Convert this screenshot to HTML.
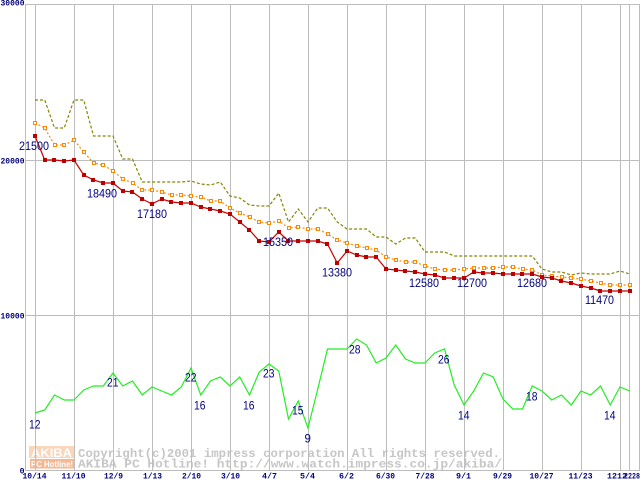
<!DOCTYPE html>
<html>
<head>
<meta charset="utf-8">
<style>
html,body{margin:0;padding:0;background:#fff;}
svg{display:block;}
</style>
</head>
<body>
<svg width="640" height="480" viewBox="0 0 640 480" xmlns="http://www.w3.org/2000/svg">
<rect x="0" y="0" width="640" height="480" fill="#fff"/>

<!-- watermark logo -->
<g opacity="0.7">
  <rect x="29" y="446" width="45" height="12" fill="#f9c49c"/>
  <text x="31" y="457" font-family="Liberation Sans, sans-serif" font-weight="bold" font-size="12" fill="#fff" textLength="41" lengthAdjust="spacingAndGlyphs">AKIBA</text>
  <rect x="30" y="459" width="44" height="9.5" fill="#f49a64"/>
  <text x="31" y="467" font-family="Liberation Sans, sans-serif" font-weight="bold" font-size="8" fill="#fff" textLength="42" lengthAdjust="spacingAndGlyphs">PC Hotline!</text>
</g>
<g font-family="Liberation Mono, monospace" font-weight="bold" font-size="12" fill="#c6c6c6">
  <text x="78" y="457" textLength="422" lengthAdjust="spacingAndGlyphs">Copyright(c)2001 impress corporation All rights reserved.</text>
  <text x="78" y="467.5" textLength="424" lengthAdjust="spacingAndGlyphs">AKIBA PC Hotline!  http://www.watch.impress.co.jp/akiba/</text>
</g>

<!-- grid -->
<g stroke="#bdbdbd" stroke-width="1" fill="none" shape-rendering="crispEdges">
  <line x1="25" y1="4.5" x2="640" y2="4.5"/>
  <line x1="25" y1="160.5" x2="640" y2="160.5"/>
  <line x1="25" y1="315.5" x2="640" y2="315.5"/>
  <line x1="25" y1="470.5" x2="640" y2="470.5"/>
  <line x1="25.5" y1="4" x2="25.5" y2="471"/>
  <line x1="35.5" y1="4" x2="35.5" y2="471"/>
  <line x1="74.5" y1="4" x2="74.5" y2="471"/>
  <line x1="113.5" y1="4" x2="113.5" y2="471"/>
  <line x1="152.5" y1="4" x2="152.5" y2="471"/>
  <line x1="191.5" y1="4" x2="191.5" y2="471"/>
  <line x1="230.5" y1="4" x2="230.5" y2="471"/>
  <line x1="269.5" y1="4" x2="269.5" y2="471"/>
  <line x1="308.5" y1="4" x2="308.5" y2="471"/>
  <line x1="347.5" y1="4" x2="347.5" y2="471"/>
  <line x1="386.5" y1="4" x2="386.5" y2="471"/>
  <line x1="425.5" y1="4" x2="425.5" y2="471"/>
  <line x1="464.5" y1="4" x2="464.5" y2="471"/>
  <line x1="503.5" y1="4" x2="503.5" y2="471"/>
  <line x1="542.5" y1="4" x2="542.5" y2="471"/>
  <line x1="581.5" y1="4" x2="581.5" y2="471"/>
  <line x1="620.5" y1="4" x2="620.5" y2="471"/>
  <line x1="629.5" y1="4" x2="629.5" y2="471"/>
  <line x1="639.5" y1="4" x2="639.5" y2="471"/>
</g>

<!-- y axis labels -->
<g font-family="Liberation Mono, monospace" font-weight="bold" font-size="8.2" fill="#000080" text-anchor="end">
  <text x="24.5" y="5.5" textLength="24" lengthAdjust="spacingAndGlyphs">30000</text>
  <text x="24.5" y="163.5" textLength="24" lengthAdjust="spacingAndGlyphs">20000</text>
  <text x="24.5" y="318.5" textLength="24" lengthAdjust="spacingAndGlyphs">10000</text>
  <text x="24.5" y="473.5">0</text>
</g>

<!-- x axis labels -->
<g font-family="Liberation Mono, monospace" font-weight="bold" font-size="8.2" fill="#000080" text-anchor="middle">
  <text x="34.5" y="478.5" textLength="24" lengthAdjust="spacingAndGlyphs">10/14</text>
  <text x="73.5" y="478.5" textLength="24" lengthAdjust="spacingAndGlyphs">11/10</text>
  <text x="113.5" y="478.5" textLength="19" lengthAdjust="spacingAndGlyphs">12/9</text>
  <text x="152.5" y="478.5" textLength="19" lengthAdjust="spacingAndGlyphs">1/13</text>
  <text x="191.5" y="478.5" textLength="19" lengthAdjust="spacingAndGlyphs">2/10</text>
  <text x="230.5" y="478.5" textLength="19" lengthAdjust="spacingAndGlyphs">3/10</text>
  <text x="269.5" y="478.5" textLength="15" lengthAdjust="spacingAndGlyphs">4/7</text>
  <text x="307.5" y="478.5" textLength="15" lengthAdjust="spacingAndGlyphs">5/4</text>
  <text x="346.5" y="478.5" textLength="15" lengthAdjust="spacingAndGlyphs">6/2</text>
  <text x="385.5" y="478.5" textLength="19" lengthAdjust="spacingAndGlyphs">6/30</text>
  <text x="425" y="478.5" textLength="19" lengthAdjust="spacingAndGlyphs">7/28</text>
  <text x="463.5" y="478.5" textLength="15" lengthAdjust="spacingAndGlyphs">9/1</text>
  <text x="502.5" y="478.5" textLength="19" lengthAdjust="spacingAndGlyphs">9/29</text>
  <text x="541.5" y="478.5" textLength="24" lengthAdjust="spacingAndGlyphs">10/27</text>
  <text x="580.5" y="478.5" textLength="24" lengthAdjust="spacingAndGlyphs">11/23</text>
  <text x="617" y="478.5" textLength="20" lengthAdjust="spacingAndGlyphs">1212</text>
  <text x="632" y="478.5" textLength="16" lengthAdjust="spacingAndGlyphs">2228</text>
</g>

<!-- olive max series -->
<polyline fill="none" stroke="#868600" stroke-width="1.2" stroke-dasharray="3,2" points="35,100 44.75,100 54.5,128 64.25,128 74,100 83.75,100 93.5,136 103.25,136 113,136 122.75,159 132.5,159 142.25,182 152,182 161.75,182 171.5,182 181.25,182 191,181 200.75,184 210.5,185 220.25,182 230,196 239.75,198 249.5,205 259.25,206 269,206 278.75,193 288.5,222 298.25,209 308,222 317.75,208 327.5,208 337.25,222 347,229 356.75,229 366.5,229 376.25,237 386,237 395.75,244 405.5,238 415.25,238 425,252 434.75,252 444.5,252 454.25,256 464,256 473.75,256 483.5,256 493.25,256 503,256 512.75,256 522.5,256 532.25,256 542,269 551.75,272 561.5,272 571.25,275 581,273 590.75,274 600.5,274 610.25,274 620,271 629.75,274"/>

<!-- orange avg series -->
<polyline fill="none" stroke="#ff8800" stroke-width="1.2" stroke-dasharray="2,2" points="35,123 44.75,128 54.5,145 64.25,145 74,140 83.75,152 93.5,163 103.25,165 113,171 122.75,179 132.5,183 142.25,190 152,190 161.75,192 171.5,195 181.25,195 191,196 200.75,197 210.5,201 220.25,201 230,208 239.75,213 249.5,217 259.25,222 269,223 278.75,221 288.5,228 298.25,227 308,229 317.75,229 327.5,234 337.25,240 347,243 356.75,246 366.5,248 376.25,250 386,257 395.75,260 405.5,262 415.25,262 425,266 434.75,269 444.5,270 454.25,270 464,269 473.75,268 483.5,268 493.25,268 503,267 512.75,267 522.5,269 532.25,270 542,275 551.75,276 561.5,277 571.25,278 581,279 590.75,281 600.5,283 610.25,285 620,285 629.75,285"/>
<g fill="#fff" stroke="#ff8800" stroke-width="1" shape-rendering="crispEdges">
<rect x="33.5" y="121.5" width="3" height="3"/><rect x="43.5" y="126.5" width="3" height="3"/><rect x="53.5" y="143.5" width="3" height="3"/><rect x="62.5" y="143.5" width="3" height="3"/><rect x="72.5" y="138.5" width="3" height="3"/><rect x="82.5" y="150.5" width="3" height="3"/><rect x="92.5" y="161.5" width="3" height="3"/><rect x="101.5" y="163.5" width="3" height="3"/><rect x="111.5" y="169.5" width="3" height="3"/><rect x="121.5" y="177.5" width="3" height="3"/><rect x="131.5" y="181.5" width="3" height="3"/><rect x="140.5" y="188.5" width="3" height="3"/><rect x="150.5" y="188.5" width="3" height="3"/><rect x="160.5" y="190.5" width="3" height="3"/><rect x="170.5" y="193.5" width="3" height="3"/><rect x="179.5" y="193.5" width="3" height="3"/><rect x="189.5" y="194.5" width="3" height="3"/><rect x="199.5" y="195.5" width="3" height="3"/><rect x="209.5" y="199.5" width="3" height="3"/><rect x="218.5" y="199.5" width="3" height="3"/><rect x="228.5" y="206.5" width="3" height="3"/><rect x="238.5" y="211.5" width="3" height="3"/><rect x="248.5" y="215.5" width="3" height="3"/><rect x="257.5" y="220.5" width="3" height="3"/><rect x="267.5" y="221.5" width="3" height="3"/><rect x="277.5" y="219.5" width="3" height="3"/><rect x="287.5" y="226.5" width="3" height="3"/><rect x="296.5" y="225.5" width="3" height="3"/><rect x="306.5" y="227.5" width="3" height="3"/><rect x="316.5" y="227.5" width="3" height="3"/><rect x="326.5" y="232.5" width="3" height="3"/><rect x="335.5" y="238.5" width="3" height="3"/><rect x="345.5" y="241.5" width="3" height="3"/><rect x="355.5" y="244.5" width="3" height="3"/><rect x="365.5" y="246.5" width="3" height="3"/><rect x="374.5" y="248.5" width="3" height="3"/><rect x="384.5" y="255.5" width="3" height="3"/><rect x="394.5" y="258.5" width="3" height="3"/><rect x="404.5" y="260.5" width="3" height="3"/><rect x="413.5" y="260.5" width="3" height="3"/><rect x="423.5" y="264.5" width="3" height="3"/><rect x="433.5" y="267.5" width="3" height="3"/><rect x="443.5" y="268.5" width="3" height="3"/><rect x="452.5" y="268.5" width="3" height="3"/><rect x="462.5" y="267.5" width="3" height="3"/><rect x="472.5" y="266.5" width="3" height="3"/><rect x="482.5" y="266.5" width="3" height="3"/><rect x="491.5" y="266.5" width="3" height="3"/><rect x="501.5" y="265.5" width="3" height="3"/><rect x="511.5" y="265.5" width="3" height="3"/><rect x="521.5" y="267.5" width="3" height="3"/><rect x="530.5" y="268.5" width="3" height="3"/><rect x="540.5" y="273.5" width="3" height="3"/><rect x="550.5" y="274.5" width="3" height="3"/><rect x="560.5" y="275.5" width="3" height="3"/><rect x="569.5" y="276.5" width="3" height="3"/><rect x="579.5" y="277.5" width="3" height="3"/><rect x="589.5" y="279.5" width="3" height="3"/><rect x="599.5" y="281.5" width="3" height="3"/><rect x="608.5" y="283.5" width="3" height="3"/><rect x="618.5" y="283.5" width="3" height="3"/><rect x="628.5" y="283.5" width="3" height="3"/>
</g>

<!-- red min series -->
<polyline fill="none" stroke="#cc0000" stroke-width="1.2" points="35,136 44.75,160 54.5,160 64.25,161 74,160 83.75,175 93.5,180 103.25,183 113,183 122.75,191 132.5,192 142.25,199 152,204 161.75,199 171.5,202 181.25,203 191,203 200.75,207 210.5,209 220.25,211 230,214 239.75,222 249.5,230 259.25,241 269,242 278.75,232 288.5,241 298.25,241 308,241 317.75,241 327.5,244 337.25,263 347,251 356.75,255 366.5,257 376.25,257 386,269 395.75,270 405.5,271 415.25,272 425,274 434.75,275 444.5,278 454.25,278 464,278 473.75,272 483.5,273 493.25,273 503,274 512.75,274 522.5,274 532.25,274 542,277 551.75,278 561.5,281 571.25,283 581,286 590.75,288 600.5,291 610.25,291 620,291 629.75,291"/>
<g fill="#bb0000" shape-rendering="crispEdges">
<rect x="33" y="134" width="4" height="4"/><rect x="43" y="158" width="4" height="4"/><rect x="52" y="158" width="4" height="4"/><rect x="62" y="159" width="4" height="4"/><rect x="72" y="158" width="4" height="4"/><rect x="82" y="173" width="4" height="4"/><rect x="91" y="178" width="4" height="4"/><rect x="101" y="181" width="4" height="4"/><rect x="111" y="181" width="4" height="4"/><rect x="121" y="189" width="4" height="4"/><rect x="130" y="190" width="4" height="4"/><rect x="140" y="197" width="4" height="4"/><rect x="150" y="202" width="4" height="4"/><rect x="160" y="197" width="4" height="4"/><rect x="169" y="200" width="4" height="4"/><rect x="179" y="201" width="4" height="4"/><rect x="189" y="201" width="4" height="4"/><rect x="199" y="205" width="4" height="4"/><rect x="208" y="207" width="4" height="4"/><rect x="218" y="209" width="4" height="4"/><rect x="228" y="212" width="4" height="4"/><rect x="238" y="220" width="4" height="4"/><rect x="247" y="228" width="4" height="4"/><rect x="257" y="239" width="4" height="4"/><rect x="267" y="240" width="4" height="4"/><rect x="277" y="230" width="4" height="4"/><rect x="286" y="239" width="4" height="4"/><rect x="296" y="239" width="4" height="4"/><rect x="306" y="239" width="4" height="4"/><rect x="316" y="239" width="4" height="4"/><rect x="325" y="242" width="4" height="4"/><rect x="335" y="261" width="4" height="4"/><rect x="345" y="249" width="4" height="4"/><rect x="355" y="253" width="4" height="4"/><rect x="364" y="255" width="4" height="4"/><rect x="374" y="255" width="4" height="4"/><rect x="384" y="267" width="4" height="4"/><rect x="394" y="268" width="4" height="4"/><rect x="403" y="269" width="4" height="4"/><rect x="413" y="270" width="4" height="4"/><rect x="423" y="272" width="4" height="4"/><rect x="433" y="273" width="4" height="4"/><rect x="442" y="276" width="4" height="4"/><rect x="452" y="276" width="4" height="4"/><rect x="462" y="276" width="4" height="4"/><rect x="472" y="270" width="4" height="4"/><rect x="481" y="271" width="4" height="4"/><rect x="491" y="271" width="4" height="4"/><rect x="501" y="272" width="4" height="4"/><rect x="511" y="272" width="4" height="4"/><rect x="520" y="272" width="4" height="4"/><rect x="530" y="272" width="4" height="4"/><rect x="540" y="275" width="4" height="4"/><rect x="550" y="276" width="4" height="4"/><rect x="559" y="279" width="4" height="4"/><rect x="569" y="281" width="4" height="4"/><rect x="579" y="284" width="4" height="4"/><rect x="589" y="286" width="4" height="4"/><rect x="598" y="289" width="4" height="4"/><rect x="608" y="289" width="4" height="4"/><rect x="618" y="289" width="4" height="4"/><rect x="628" y="289" width="4" height="4"/>
</g>

<!-- green count series -->
<polyline fill="none" stroke="#22ee22" stroke-width="1.2" points="35,413 44.75,410 54.5,395 64.25,400 74,400 83.75,390 93.5,386 103.25,386 113,373 122.75,386 132.5,381 142.25,395 152,387 161.75,391 171.5,395 181.25,387 191,368 200.75,395 210.5,381 220.25,377 230,386 239.75,377 249.5,395 259.25,372 269,364 278.75,371 288.5,419 298.25,401 308,428 317.75,389 327.5,349 337.25,349 347,349 356.75,339 366.5,345 376.25,363 386,358 395.75,345 405.5,359 415.25,363 425,363 434.75,353 444.5,349 454.25,385 464,405 473.75,391 483.5,373 493.25,377 503,399 512.75,409 522.5,409 532.25,386 542,391 551.75,400 561.5,395 571.25,405 581,391 590.75,395 600.5,386 610.25,405 620,387 629.75,391"/>

<!-- data labels -->
<g font-family="Liberation Sans, sans-serif" font-size="11.5" fill="#000080">
  <text x="19" y="150" textLength="30" lengthAdjust="spacingAndGlyphs">21500</text>
  <text x="87" y="197.5" textLength="30" lengthAdjust="spacingAndGlyphs">18490</text>
  <text x="137" y="218" textLength="30" lengthAdjust="spacingAndGlyphs">17180</text>
  <text x="263" y="246" textLength="30" lengthAdjust="spacingAndGlyphs">15350</text>
  <text x="322" y="276.5" textLength="30" lengthAdjust="spacingAndGlyphs">13380</text>
  <text x="409" y="287" textLength="30" lengthAdjust="spacingAndGlyphs">12580</text>
  <text x="457" y="287" textLength="30" lengthAdjust="spacingAndGlyphs">12700</text>
  <text x="517" y="287" textLength="30" lengthAdjust="spacingAndGlyphs">12680</text>
  <text x="585" y="304" textLength="29" lengthAdjust="spacingAndGlyphs">11470</text>
  <text x="29" y="428.5" textLength="11.5" lengthAdjust="spacingAndGlyphs">12</text>
  <text x="107" y="386.5" textLength="11.5" lengthAdjust="spacingAndGlyphs">21</text>
  <text x="185" y="381.5" textLength="11.5" lengthAdjust="spacingAndGlyphs">22</text>
  <text x="194" y="409.5" textLength="11.5" lengthAdjust="spacingAndGlyphs">16</text>
  <text x="243" y="409.5" textLength="11.5" lengthAdjust="spacingAndGlyphs">16</text>
  <text x="263" y="377.5" textLength="11.5" lengthAdjust="spacingAndGlyphs">23</text>
  <text x="292" y="414.5" textLength="11.5" lengthAdjust="spacingAndGlyphs">15</text>
  <text x="304.5" y="442.5">9</text>
  <text x="349" y="353.5" textLength="11.5" lengthAdjust="spacingAndGlyphs">28</text>
  <text x="438" y="363.5" textLength="11.5" lengthAdjust="spacingAndGlyphs">26</text>
  <text x="458" y="419.5" textLength="11.5" lengthAdjust="spacingAndGlyphs">14</text>
  <text x="526" y="400.5" textLength="11.5" lengthAdjust="spacingAndGlyphs">18</text>
  <text x="604" y="419.5" textLength="11.5" lengthAdjust="spacingAndGlyphs">14</text>
</g>
</svg>
</body>
</html>
